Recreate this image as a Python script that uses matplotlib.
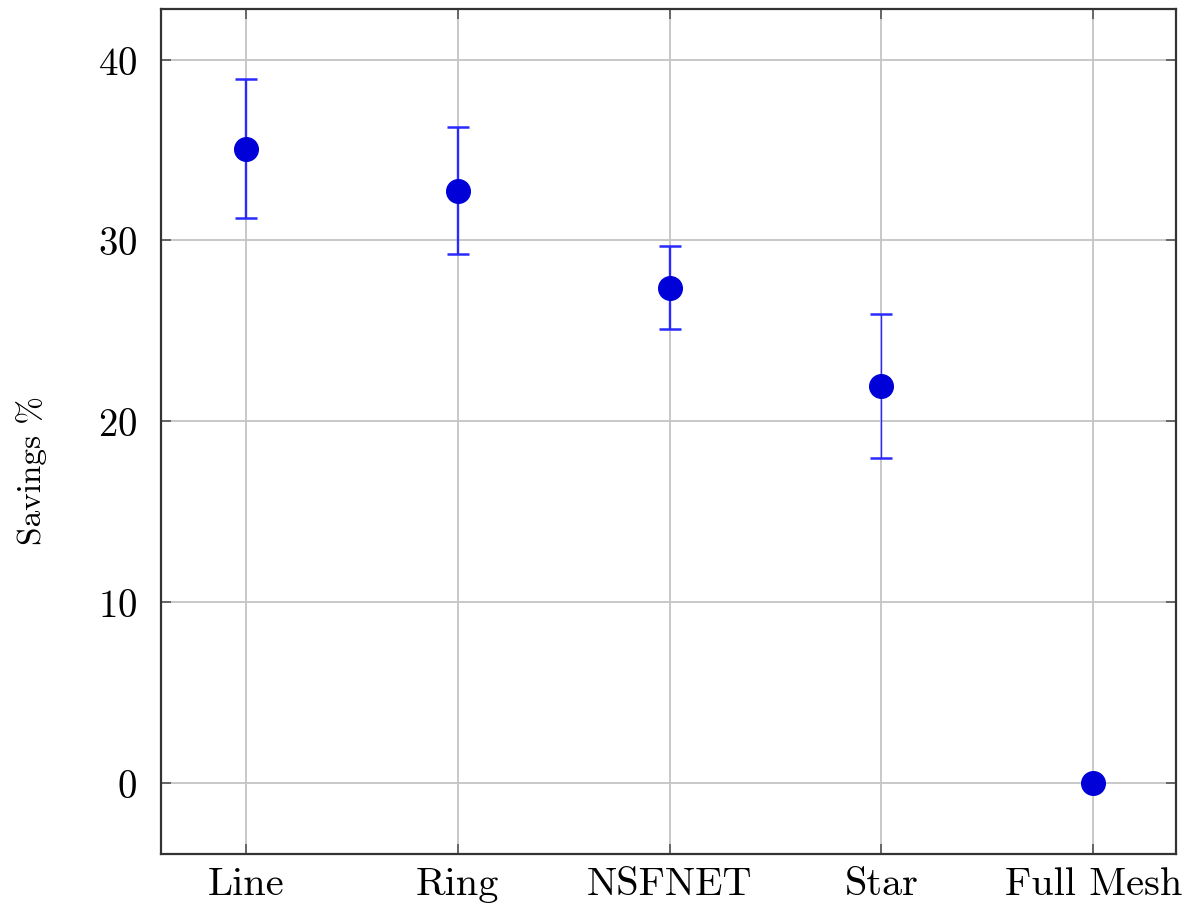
import matplotlib
matplotlib.use("Agg")
import matplotlib.pyplot as plt

# Savings per topology: mean and +/- spread
topologies = ["Line", "Ring", "NSFNET", "Star", "Full Mesh"]
savings_mean = [35.07, 32.76, 27.39, 21.95, 0.0]
savings_err = [3.85, 3.53, 2.30, 3.98, 0.0]

plt.rcParams.update({
    "font.family": "cmr10",
    "mathtext.fontset": "cm",
    "axes.formatter.use_mathtext": True,
})

fig = plt.figure(figsize=(11.96, 9.2), dpi=100)
ax = fig.add_axes([0.1346, 0.0707, 0.8487, 0.9184])

xs = list(range(len(topologies)))
for x, m, e in zip(xs, savings_mean, savings_err):
    lw = 1.0 if x == 3 else 1.7
    if e > 0:
        ax.errorbar(x, m, yerr=e, fmt="none", ecolor="#2a2aff",
                    elinewidth=lw, capsize=8, capthick=1.8, zorder=3)
    ax.plot(x, m, "o", color="#0000d8", markersize=17, zorder=4)

ax.set_xlim(-0.4, 4.39)
ax.set_ylim(-3.93, 42.8)
ax.set_xticks(xs)
ax.set_xticklabels(topologies)
ax.set_yticks([0, 10, 20, 30, 40])

ax.grid(True, color="#c4c4c4", linewidth=1.3)
ax.set_axisbelow(True)
ax.tick_params(direction="in", length=7, width=1.2, color="#555555",
               top=True, right=True)
ax.tick_params(axis="y", pad=17, labelsize=28)
ax.tick_params(axis="x", pad=9, labelsize=29)
for s in ax.spines.values():
    s.set_linewidth(1.6)
    s.set_color("#333333")

ax.set_ylabel("Savings %", fontsize=24)
ax.yaxis.set_label_coords(-0.112, 0.455)

fig.savefig("out.png", dpi=100)
